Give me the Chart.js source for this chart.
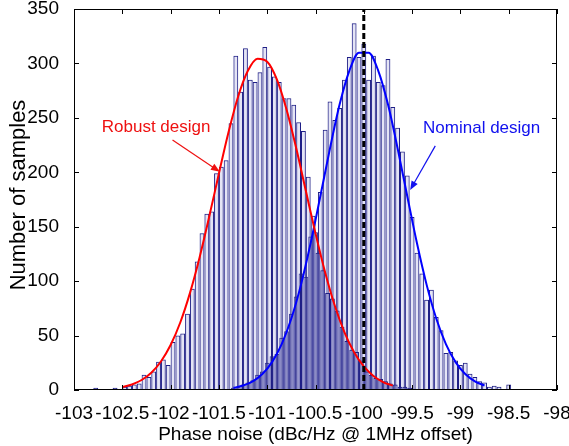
<!DOCTYPE html>
<html>
<head>
<meta charset="utf-8">
<script src="https://cdn.jsdelivr.net/npm/chart.js@4.4.0/dist/chart.umd.min.js"></script>
<style>
    html, body { margin: 0; padding: 0; background: #fff; }
    #wrap { width: 569px; height: 446px; }
</style>
</head>
<body>
<div id="wrap"><canvas id="noiseChart" width="569" height="446"></canvas></div>
<script>
// Histogram bins: 0.05 dBc/Hz wide starting at -103
const binStart = -103;
const binWidth = 0.05;

// Counts per bin, robust design
const robustCounts = [
    0, 1, 1, 0, 2, 0, 0, 1, 2, 1,
    3, 4, 5, 6, 14, 12, 17, 26, 28, 23,
    44, 50, 52, 70, 93, 118, 144, 162, 164, 199,
    205, 211, 245, 307, 274, 314, 285, 283, 292, 315,
    297, 288, 283, 268, 268, 262, 246, 238, 196, 160,
    126, 110, 89, 84, 73, 58, 45, 37, 35, 27,
    17, 14, 11, 10, 8, 6, 5, 3, 3, 2,
    1, 1, 0, 1, 0, 0, 0, 0, 0, 0,
    0, 0, 0, 0, 0, 0, 0, 0, 0, 0,
    0, 0, 0, 0, 0, 0, 0, 0, 0, 0
];

// Counts per bin, nominal design (bins sit half a bin to the right)
const nominalCounts = [
    0, 0, 0, 0, 0, 0, 0, 0, 0, 0,
    0, 0, 0, 0, 0, 0, 0, 0, 0, 0,
    0, 0, 0, 0, 0, 0, 0, 1, 0, 1,
    1, 1, 2, 3, 5, 7, 9, 14, 17, 25,
    31, 33, 48, 54, 70, 86, 107, 104, 141, 145,
    182, 239, 265, 248, 259, 285, 306, 337, 306, 318,
    285, 307, 283, 280, 304, 260, 241, 219, 197, 159,
    126, 107, 83, 92, 67, 55, 34, 35, 27, 23,
    25, 15, 12, 8, 7, 3, 4, 3, 1, 5,
    1, 0, 0, 1, 0, 0, 0, 0, 0, 0
];

// Fitted curves
const robustFitX = [-102.5, -102.4, -102.3, -102.2, -102.1, -102.0, -101.9, -101.8, -101.7, -101.6,
    -101.5, -101.4, -101.3, -101.2, -101.1, -101.0, -100.9, -100.8, -100.7, -100.6,
    -100.5, -100.4, -100.3, -100.2, -100.1, -100.0, -99.9, -99.8, -99.7];
const robustFitY = [2.7, 5.1, 9.2, 15.9, 26.2, 41.3, 62, 89, 121.8, 159.3,
    198.9, 237, 269.9, 293.3, 304.4, 301.6, 285.3, 257.7, 222.3, 183,
    143.9, 108, 77.4, 53, 34.6, 21.6, 12.9, 7.3, 4.0];

const nominalFitX = [-101.35, -101.25, -101.15, -101.05, -100.95, -100.85, -100.75, -100.65, -100.55, -100.45,
    -100.35, -100.25, -100.15, -100.05, -99.95, -99.85, -99.75, -99.65, -99.55, -99.45,
    -99.35, -99.25, -99.15, -99.05, -98.95, -98.85, -98.75];
const nominalFitY = [2.0, 4.1, 8.0, 14.7, 25.6, 42.2, 65.7, 96.8, 135, 178,
    222, 262.4, 293.2, 309.9, 309.9, 293.2, 262.4, 222, 178, 135,
    96.8, 65.7, 42.2, 25.6, 14.7, 8.0, 4.1];

// Dashed marker (nominal spec)
const markerX = -100;

const FONT = "'Liberation Sans', Arial, Helvetica, sans-serif";

// Text + arrow annotations, in data units
const notes = [
    { text: 'Robust design', color: '#ee1111', x: -102.15, y: 237, from: [-101.98, 229.6], to: [-101.49, 200.5] },
    { text: 'Nominal design', color: '#1111ee', x: -98.78, y: 236.5, from: [-99.26, 224.3], to: [-99.52, 183.7] }
];

function toPoints(xs, ys) {
    return xs.map((x, i) => ({ x: x, y: ys[i] }));
}

const robustBars = robustCounts.map((c, i) => ({ x: binStart + binWidth * (i + 0.5), y: c }));
const nominalBars = nominalCounts.map((c, i) => ({ x: binStart + binWidth * (i + 1), y: c }));

// Box, inward ticks, axis titles and annotations
const framePlugin = {
    id: 'frame',
    afterDraw(chart) {
        const ctx = chart.ctx;
        const a = chart.chartArea;
        const xs = chart.scales.x;
        const ys = chart.scales.y;
        ctx.save();

        // annotations
        notes.forEach(n => {
            ctx.fillStyle = n.color;
            ctx.strokeStyle = n.color;
            ctx.font = '17px ' + FONT;
            ctx.textAlign = 'center';
            ctx.textBaseline = 'alphabetic';
            ctx.fillText(n.text, xs.getPixelForValue(n.x), ys.getPixelForValue(n.y));

            const x1 = xs.getPixelForValue(n.from[0]), y1 = ys.getPixelForValue(n.from[1]);
            const x2 = xs.getPixelForValue(n.to[0]), y2 = ys.getPixelForValue(n.to[1]);
            const ang = Math.atan2(y2 - y1, x2 - x1);
            ctx.lineWidth = 1.2;
            ctx.beginPath();
            ctx.moveTo(x1, y1);
            ctx.lineTo(x2 - 6 * Math.cos(ang), y2 - 6 * Math.sin(ang));
            ctx.stroke();
            ctx.beginPath();
            ctx.moveTo(x2, y2);
            ctx.lineTo(x2 - 9 * Math.cos(ang) + 3.5 * Math.sin(ang), y2 - 9 * Math.sin(ang) - 3.5 * Math.cos(ang));
            ctx.lineTo(x2 - 9 * Math.cos(ang) - 3.5 * Math.sin(ang), y2 - 9 * Math.sin(ang) + 3.5 * Math.cos(ang));
            ctx.closePath();
            ctx.fill();
        });

        // axes box
        ctx.strokeStyle = '#000';
        ctx.lineWidth = 1;
        ctx.strokeRect(Math.round(a.left) + 0.5, Math.round(a.top) + 0.5,
            Math.round(a.right - a.left) - 1, Math.round(a.bottom - a.top) - 1);

        // inward ticks on all four sides
        ctx.beginPath();
        xs.ticks.forEach(t => {
            const px = Math.round(xs.getPixelForValue(t.value)) + 0.5;
            ctx.moveTo(px, a.bottom); ctx.lineTo(px, a.bottom - 5);
            ctx.moveTo(px, a.top); ctx.lineTo(px, a.top + 5);
        });
        ys.ticks.forEach(t => {
            const py = Math.round(ys.getPixelForValue(t.value)) + 0.5;
            ctx.moveTo(a.left, py); ctx.lineTo(a.left + 5, py);
            ctx.moveTo(a.right, py); ctx.lineTo(a.right - 5, py);
        });
        ctx.stroke();

        // axis titles
        ctx.fillStyle = '#000';
        ctx.font = '19px ' + FONT;
        ctx.textAlign = 'center';
        ctx.textBaseline = 'alphabetic';
        ctx.fillText('Phase noise (dBc/Hz @ 1MHz offset)', (a.left + a.right) / 2, 440);

        ctx.translate(25, 195);
        ctx.rotate(-Math.PI / 2);
        ctx.font = '22px ' + FONT;
        ctx.fillText('Number of samples', 0, 0);
        ctx.restore();
    }
};

const barStyle = {
    backgroundColor: 'rgba(150, 150, 215, 0.25)',
    borderColor: '#1e1e86',
    borderWidth: 1,
    grouped: false,
    barPercentage: 1,
    categoryPercentage: 2,
    order: 3
};

new Chart(document.getElementById('noiseChart').getContext('2d'), {
    type: 'bar',
    data: {
        datasets: [
            {
                type: 'line',
                data: [{ x: markerX, y: 0 }, { x: markerX, y: 350 }],
                borderColor: '#000',
                borderWidth: 3,
                borderDash: [6, 3],
                pointRadius: 0,
                order: 0
            },
            {
                type: 'line',
                data: toPoints(robustFitX, robustFitY),
                borderColor: '#ff0000',
                borderWidth: 2,
                pointRadius: 0,
                cubicInterpolationMode: 'monotone',
                order: 1
            },
            {
                type: 'line',
                data: toPoints(nominalFitX, nominalFitY),
                borderColor: '#0000ff',
                borderWidth: 2,
                pointRadius: 0,
                cubicInterpolationMode: 'monotone',
                order: 1
            },
            Object.assign({ data: robustBars }, barStyle),
            Object.assign({ data: nominalBars }, barStyle)
        ]
    },
    options: {
        responsive: false,
        animation: false,
        devicePixelRatio: 1,
        layout: { padding: { left: 0, right: 12, top: 9, bottom: 0 } },
        plugins: {
            legend: { display: false },
            tooltip: { enabled: false }
        },
        scales: {
            x: {
                type: 'linear',
                offset: false,
                min: -103,
                max: -98,
                grid: { display: false },
                border: { display: false },
                ticks: {
                    stepSize: 0.5,
                    autoSkip: false,
                    color: '#000',
                    padding: 4,
                    maxRotation: 0,
                    font: { family: FONT, size: 19 },
                    callback: v => String(v)
                },
                afterFit: scale => {
                    scale.height = 56;
                    scale.paddingLeft = 0;
                    scale.paddingRight = 0;
                }
            },
            y: {
                min: 0,
                max: 350,
                grid: { display: false },
                border: { display: false },
                ticks: {
                    stepSize: 50,
                    color: '#000',
                    padding: 7,
                    font: { family: FONT, size: 19 }
                },
                afterFit: scale => {
                    scale.width = 74;
                    scale.paddingTop = 0;
                    scale.paddingBottom = 0;
                }
            }
        }
    },
    plugins: [framePlugin]
});
</script>
</body>
</html>
